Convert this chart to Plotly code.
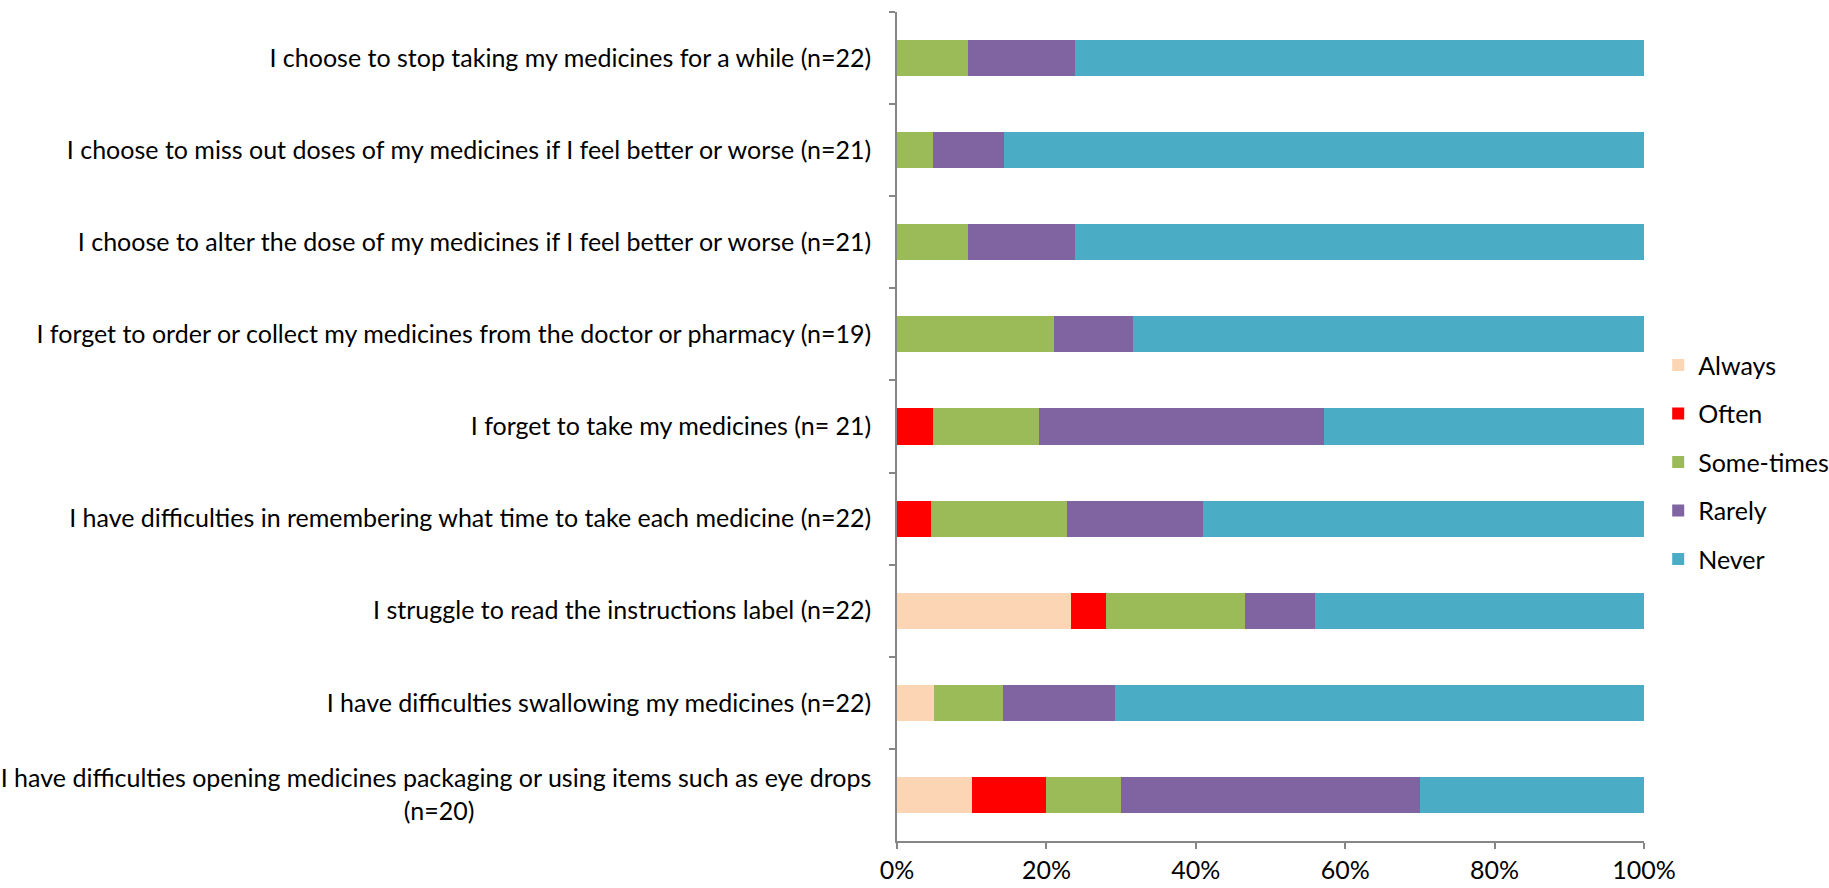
import plotly.graph_objects as go

# Survey statements (top to bottom as displayed)
statements = [
    "I choose to stop taking my medicines for a while (n=22)",
    "I choose to miss out doses of my medicines if I feel better or worse (n=21)",
    "I choose to alter the dose of my medicines if I feel better or worse (n=21)",
    "I forget to order or collect my medicines from the doctor or pharmacy (n=19)",
    "I forget to take my medicines (n= 21)",
    "I have difficulties in remembering what time to take each medicine (n=22)",
    "I struggle to read the instructions label (n=22)",
    "I have difficulties swallowing my medicines (n=22)",
    "I have difficulties opening medicines packaging or using items such as eye drops<br>(n=20)"
    + "\u00a0" * 62,
]

# Percentage of respondents per response option
always = [0, 0, 0, 0, 0, 0, 23.3, 5.0, 10.0]
often = [0, 0, 0, 0, 4.76, 4.55, 4.7, 0, 10.0]
sometimes = [9.52, 4.76, 9.52, 21.05, 14.29, 18.18, 18.6, 9.2, 10.0]
rarely = [14.29, 9.52, 14.29, 10.53, 38.10, 18.18, 9.4, 15.0, 40.0]
never = [76.19, 85.71, 76.19, 68.42, 42.86, 59.09, 44.0, 70.8, 30.0]

x_ticks = [0, 20, 40, 60, 80, 100]
x_tick_labels = ["0%", "20%", "40%", "60%", "80%", "100%"]

series = [
    ("Always", always, "#FCD5B5"),
    ("Often", often, "#FF0000"),
    ("Some-times", sometimes, "#9BBB59"),
    ("Rarely", rarely, "#8064A2"),
    ("Never", never, "#4BACC6"),
]

font_family = "Lato, sans-serif"

fig = go.Figure()
for name, vals, color in series:
    fig.add_trace(go.Bar(
        y=statements,
        x=vals,
        name=name,
        orientation="h",
        marker=dict(color=color, line=dict(width=0)),
        legendgroup=name,
        hoverinfo="x+name",
    ))

fig.update_layout(
    width=1829,
    height=888,
    barmode="stack",
    bargap=0.607,
    plot_bgcolor="white",
    paper_bgcolor="white",
    font=dict(family=font_family, size=25, color="#000000"),
    margin=dict(l=897, r=185, t=12, b=47, autoexpand=False),
    legend=dict(
        x=1.019,
        y=0.457,
        xanchor="left",
        yanchor="middle",
        traceorder="grouped",
        tracegroupgap=13,
        font=dict(size=25),
        itemsizing="constant",
    ),
    xaxis=dict(
        range=[0, 100],
        tickmode="array",
        tickvals=x_ticks,
        ticktext=x_tick_labels,
        showgrid=False,
        zeroline=False,
        showline=True,
        linecolor="#868686",
        linewidth=1.5,
        ticks="outside",
        ticklen=6,
        tickcolor="#868686",
        tickwidth=1.5,
        automargin=False,
        fixedrange=True,
    ),
    yaxis=dict(
        autorange="reversed",
        showgrid=False,
        showline=True,
        linecolor="#868686",
        linewidth=1.5,
        ticks="outside",
        tickson="boundaries",
        ticklen=6,
        tickcolor="#868686",
        tickwidth=1.5,
        ticklabelstandoff=19,
        automargin=False,
        fixedrange=True,
    ),
)

fig.write_html("out.html")
